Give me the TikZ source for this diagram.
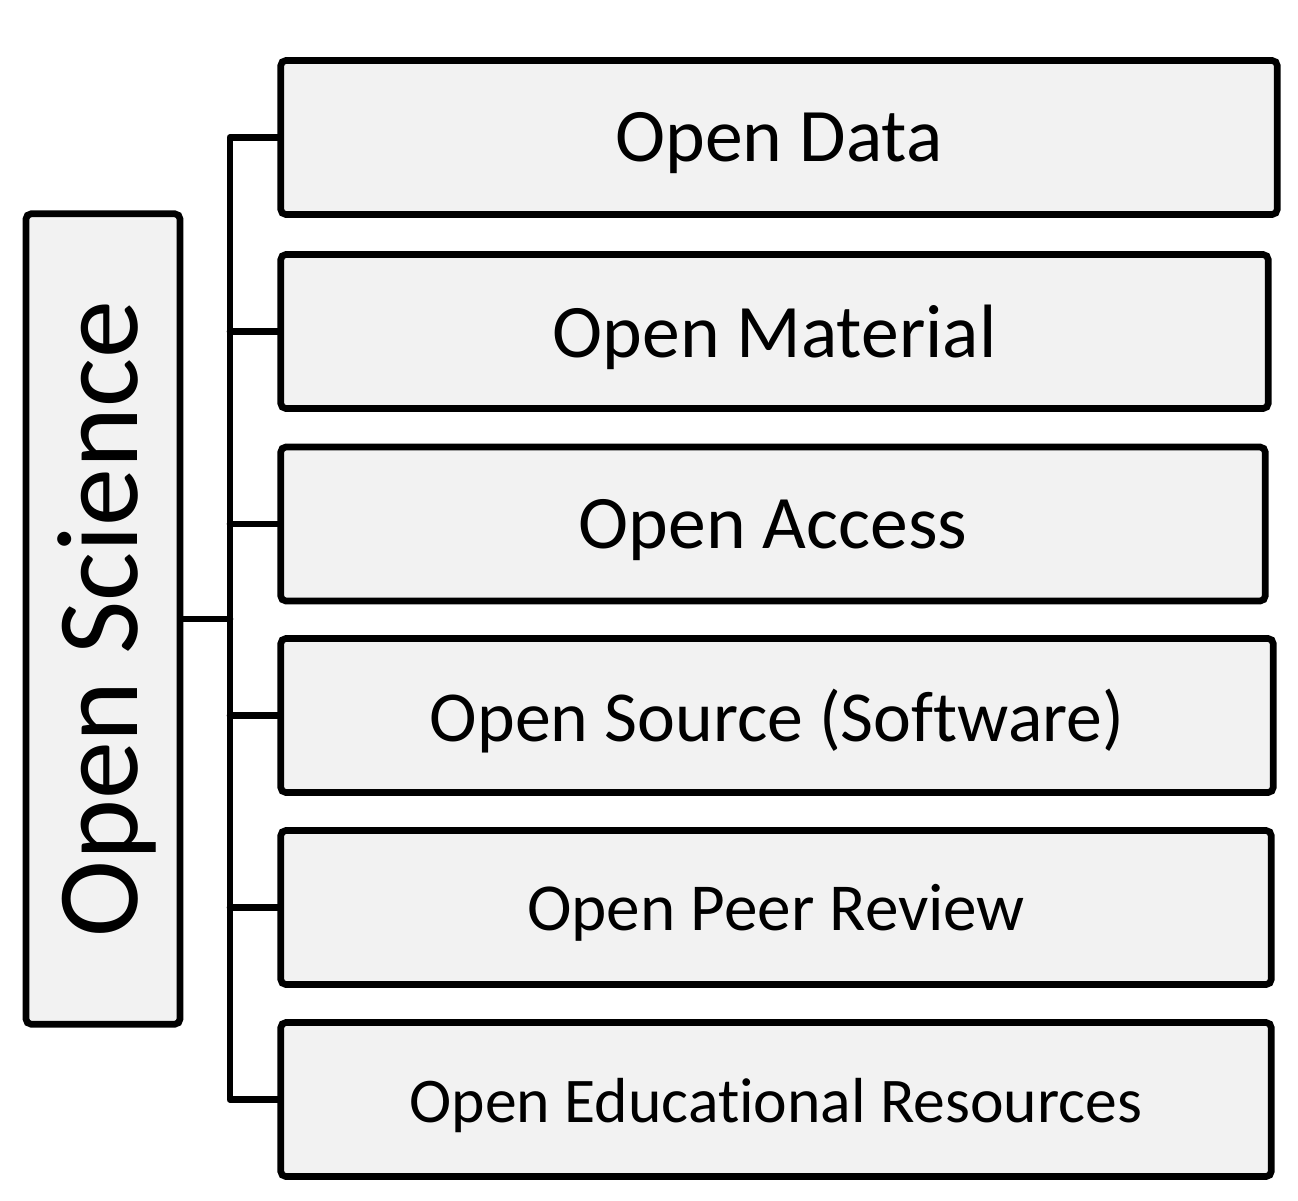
\documentclass[tikz,border=0pt]{standalone}
\usepackage{fontspec}
\setmainfont{Carlito}[Ligatures=NoCommon]
\usetikzlibrary{positioning,calc}
\definecolor{boxgray}{RGB}{242,242,242}
\newcommand{\pts}[1]{\fontsize{#1}{1.2\dimexpr#1pt\relax}\selectfont}

\begin{document}
\begin{tikzpicture}[x=0.01cm,y=-0.01cm,
  item/.style={draw=black,line width=1.9pt,fill=boxgray,rounded corners=1.5pt,
               minimum height=1.54cm,inner sep=0pt,font=\pts{21.5}},
  label/.style={font=\pts{21.5},yshift=-1.6pt},
  root/.style={draw=black,line width=1.9pt,fill=boxgray,rounded corners=1.5pt,
               minimum width=1.54cm,minimum height=8.1cm,inner sep=0pt},
  link/.style={line width=1.9pt,line cap=round,line join=round}
]
\useasboundingbox (0,0) rectangle (1298,1200);

\node[root] (sci) at (103,619) {};
\node[rotate=90,font=\pts{33}] (scitext) at ([xshift=0.04cm]sci.center) {Open Science};

\node[item,minimum width=9.96cm] (data) at (779,137.5) {};
\node[item,minimum width=9.87cm] (material) at (774.5,331.5) {};
\node[item,minimum width=9.84cm] (access) at (773,524) {};
\node[item,minimum width=9.92cm] (source) at (777,715.5) {};
\node[item,minimum width=9.90cm] (peer) at (776,907.5) {};
\node[item,minimum width=9.90cm] (oer) at (776,1099.5) {};

\node[label] (datatext) at (data.center) {Open Data};
\node[label] (materialtext) at (material.center) {Open Material};
\node[label] (accesstext) at (access.center) {Open Access};
\node[label,font=\pts{20.4}] (sourcetext) at (source.center) {Open Source (Software)};
\node[label,font=\pts{19.1}] (peertext) at (peer.center) {Open Peer Review};
\node[label,font=\pts{18.1}] (oertext) at (oer.center) {Open Educational Resources};

% bus line
\coordinate (bus) at (230,619);
\draw[link] (sci.east) -- (bus);
\draw[link] (data.west) -| (bus) |- (oer.west);
\foreach \n in {material,access,source,peer}
  \draw[link] (\n.west) -- (\n.west -| bus);
\end{tikzpicture}
\end{document}
